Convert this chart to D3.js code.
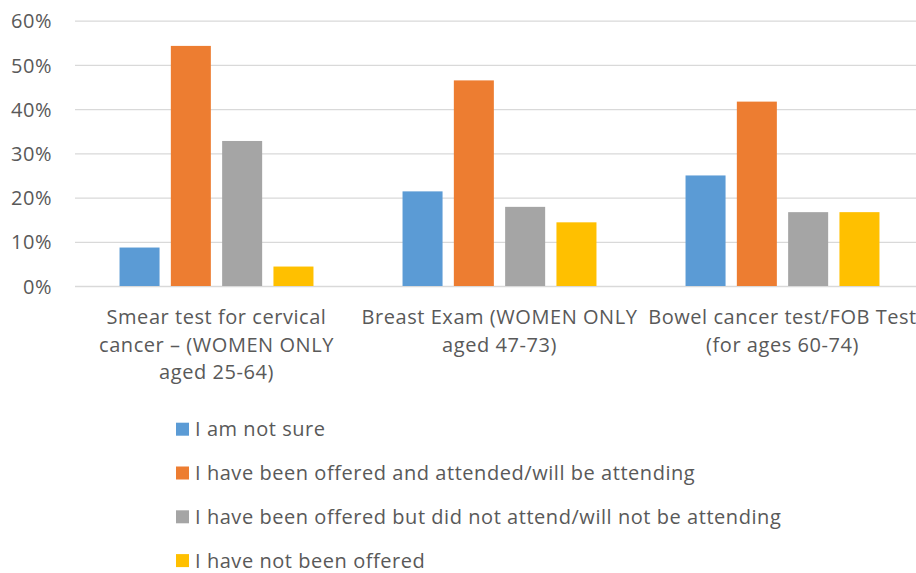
<!DOCTYPE html>
<html><head><meta charset="utf-8">
<script src="https://cdn.jsdelivr.net/npm/d3@7"></script>
<style>body{margin:0;background:#fff}svg{display:block}text{font-family:"Open Sans","Noto Sans",sans-serif;fill:#595959;letter-spacing:0.55px}</style>
</head><body><svg id="c" width="916" height="573"></svg>
<script>
const categories = [
  ["Smear test for cervical","cancer \u2013 (WOMEN ONLY","aged 25-64)"],
  ["Breast Exam (WOMEN ONLY","aged 47-73)"],
  ["Bowel cancer test/FOB Test","(for ages 60-74)"]
];
const seriesNames = [
  "I am not sure",
  "I have been offered and attended/will be attending",
  "I have been offered but did not attend/will not be attending",
  "I have not been offered"
];
const notSure = [8.7, 21.4, 25.0];
const attended = [54.3, 46.5, 41.7];
const notAttended = [32.8, 17.9, 16.7];
const notOffered = [4.4, 14.4, 16.7];
const yTicks = [0, 10, 20, 30, 40, 50, 60];
const colors = ["#5B9BD5", "#ED7D31", "#A5A5A5", "#FFC000"];

const series = [notSure, attended, notAttended, notOffered];
const svg = d3.select("#c");
const y = d3.scaleLinear().domain([0, 60]).range([286, 20.7]);
const x0 = d3.scaleBand().domain(d3.range(categories.length)).range([75, 924]).paddingInner(0).paddingOuter(0);
const x1 = d3.scaleBand().domain(d3.range(series.length)).range([0, x0.bandwidth()]).paddingInner(0.22).paddingOuter(0.868);

const yAxis = d3.axisLeft(y).tickValues(yTicks).tickSize(-(924 - 75)).tickFormat(d => d + "%");
const gy = svg.append("g").attr("transform", "translate(75,0)").call(yAxis);
gy.select(".domain").remove();
gy.selectAll(".tick line").attr("stroke", "#D9D9D9").attr("stroke-width", 1.3);
gy.selectAll(".tick text").attr("x", -23).attr("dy", "0.36em").style("font-size", "20px").attr("fill", "#595959");

const g = svg.append("g");
series.forEach((vals, si) => {
  g.selectAll(null).data(vals).enter().append("rect")
    .attr("x", (d, i) => x0(i) + x1(si))
    .attr("width", x1.bandwidth())
    .attr("y", d => y(d))
    .attr("height", d => y(0) - y(d))
    .attr("fill", colors[si]);
});

categories.forEach((lines, i) => {
  const t = svg.append("text").attr("text-anchor", "middle").style("font-size", "20px");
  lines.forEach((l, k) => {
    t.append("tspan").attr("x", x0(i) + x0.bandwidth() / 2).attr("y", 324 + k * 27.5).text(l);
  });
});

const leg = svg.append("g");
seriesNames.forEach((n, i) => {
  const yy = 436.2 + i * 43.8;
  leg.append("rect").attr("x", 176).attr("y", yy - 13.5).attr("width", 13).attr("height", 13).attr("fill", colors[i]);
  leg.append("text").attr("x", 195).attr("y", yy).style("font-size", "20px").text(n);
});
</script></body></html>
